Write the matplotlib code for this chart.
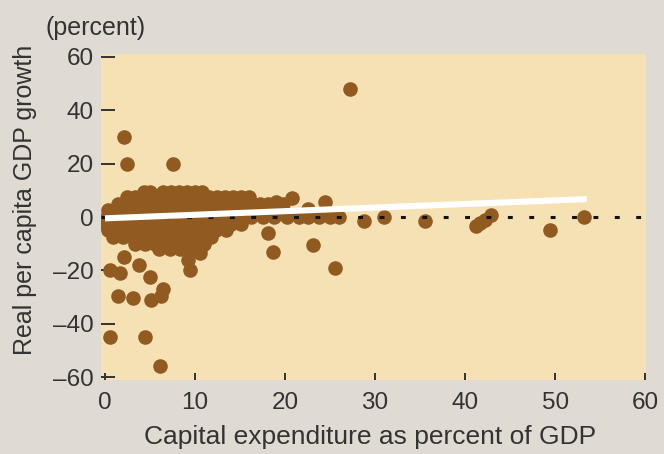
import matplotlib
matplotlib.use("Agg")
import matplotlib.pyplot as plt

plt.rcParams['font.family'] = ['Liberation Sans', 'DejaVu Sans']

# capital expenditure (% of GDP) and real per capita GDP growth (%)
# dense core of observations, listed row by row
core_x = [4.3, 5.0, 6.4, 7.3, 8.2, 9.1, 10.0, 10.8,
          2.4, 3.3, 4.6, 5.6, 6.8, 8.7, 11.5, 12.4, 13.3, 14.2, 15.1, 16.0,
          1.5, 2.2, 3.0, 4.0, 5.0, 6.0, 7.2, 8.0, 9.5, 10.5, 11.6, 12.8, 13.9, 15.0, 16.3, 17.2, 18.1, 19.0, 19.8,
          0.3, 1.2, 2.2, 3.4, 4.5, 5.5, 6.6, 7.7, 8.8, 9.9, 11.0, 12.1, 13.2, 14.4, 15.5, 16.6, 17.7, 19.0,
          0.2, 1.1, 2.0, 3.0, 4.1, 5.2, 6.2, 7.3, 8.4, 9.5, 10.6, 11.7, 12.8, 13.9, 15.0, 16.2, 17.5, 18.8,
          20.2, 21.5, 22.6, 23.8, 25.0, 26.0,
          0.0, 1.0, 2.0, 3.1, 4.2, 5.3, 6.4, 7.5, 8.6, 9.7, 10.8, 11.9, 12.9, 14.0, 15.1,
          0.3, 1.3, 2.4, 3.5, 4.6, 5.7, 6.8, 7.9, 9.0, 10.1, 11.2, 12.3, 13.4,
          0.9, 2.0, 3.1, 4.1, 5.2, 6.3, 7.4, 8.5, 9.6, 10.7, 11.8,
          3.3, 4.4, 5.6, 6.7, 7.8, 8.9, 10.0, 11.0,
          6.0, 7.2, 8.3, 9.5, 10.5]
core_y = [9.5] * 8 + [7.5] * 12 + [5.0] * 19 + [2.5] * 18 + [0.0] * 24 \
    + [-2.5] * 15 + [-5.0] * 13 + [-7.5] * 11 + [-10.0] * 8 + [-12.0] * 5

# scattered observations
out_x = [27.2, 2.1, 2.4, 7.5, 20.8, 19.0, 24.4, 22.5,
         0.55, 2.1, 1.7, 3.8, 5.0, 1.5, 3.1, 5.1, 6.2, 6.4,
         0.55, 4.4, 6.1, 9.4, 10.5, 9.2, 18.1, 18.7, 23.1, 25.5,
         28.8, 31.0, 35.5, 41.6, 42.2, 42.9, 41.2, 49.4, 53.2]
out_y = [48.0, 30.0, 20.0, 20.0, 7.0, 5.6, 5.6, 3.0,
         -20.0, -15.0, -21.0, -18.0, -22.5, -29.6, -30.4, -31.0, -29.5, -27.0,
         -45.0, -45.0, -56.0, -20.0, -13.5, -16.0, -6.0, -13.0, -10.5, -19.0,
         -1.5, 0.0, -1.5, -2.2, -1.0, 0.7, -3.2, -4.8, 0.0]

# fitted trend
fit_x = [0.0, 53.5]
fit_y = [-0.5, 6.7]

xticks = [0, 10, 20, 30, 40, 50, 60]
yticks = [-60, -40, -20, 0, 20, 40, 60]

bg = '#dfdad2'
panel = '#f6e1b4'
dot = '#915a21'
ink = '#333333'

fig = plt.figure(figsize=(6.64, 4.54), dpi=100, facecolor=bg)
ax = fig.add_axes([0.152, 0.163, 0.821, 0.718], facecolor=panel)

ax.scatter(core_x + out_x, core_y + out_y, s=110, color=dot,
           linewidths=0, zorder=2)
ax.axhline(0, color='#111111', lw=2.2, linestyle=(0, (1.6, 5.4)), zorder=3)
ax.plot(fit_x, fit_y, color='white', lw=4.4, solid_capstyle='butt', zorder=4)

ax.set_xlim(-0.45, 60.1)
ax.set_ylim(-61.1, 61.1)
ax.set_xticks(xticks)
ax.set_yticks(yticks)
for s in ax.spines.values():
    s.set_visible(False)
ax.tick_params(axis='x', direction='in', length=5, width=1.4, color=ink,
               labelsize=17.5, labelcolor=ink, pad=9)
ax.tick_params(axis='y', direction='in', length=10, width=1.4, color=ink,
               labelsize=17.5, labelcolor=ink, pad=5)
ax.set_yticklabels([str(v).replace('-', '\u2013') for v in yticks])

fig.text(0.068, 0.938, '(percent)', fontsize=18, color=ink, ha='left', va='center')
fig.text(0.038, 0.56, 'Real per capita GDP growth', fontsize=18, color=ink,
         rotation=90, ha='center', va='center')
fig.text(0.557, 0.037, 'Capital expenditure as percent of GDP', fontsize=19,
         color=ink, ha='center', va='center')

fig.savefig('out.png', dpi=100, facecolor=bg)
